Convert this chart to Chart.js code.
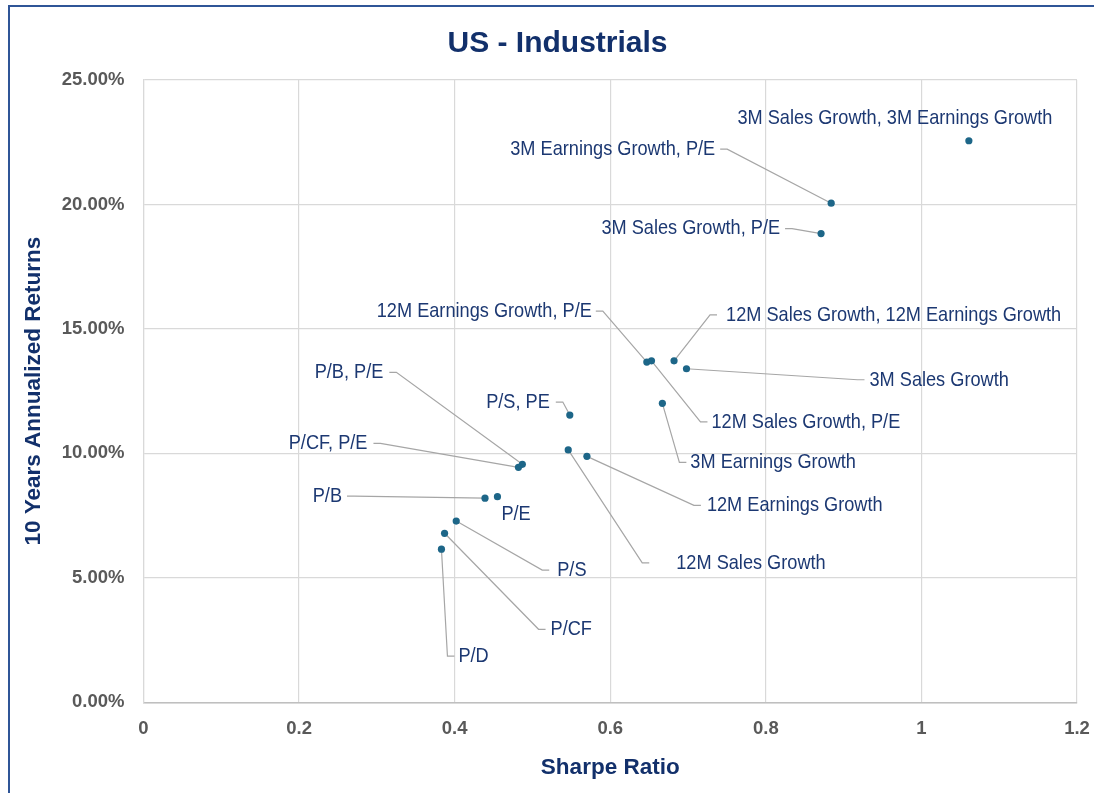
<!DOCTYPE html>
<html>
<head>
<meta charset="utf-8">
<script src="https://cdn.jsdelivr.net/npm/chart.js@4.4.1/dist/chart.umd.min.js"></script>
<style>
  html, body { margin: 0; padding: 0; background: #fff; }
  #wrap { width: 1094px; height: 793px; }
</style>
</head>
<body>
<div id="wrap"><canvas id="chart" width="1094" height="793"></canvas></div>
<script>
// factor combinations, Sharpe ratio and 10y annualized return (%)
const factorNames = [
    'P/D', 'P/CF', 'P/S', 'P/B', 'P/E',
    'P/CF, P/E', 'P/B, P/E', '12M Sales Growth', '12M Earnings Growth', 'P/S, PE',
    '3M Earnings Growth', '12M Earnings Growth, P/E', '12M Sales Growth, P/E',
    '12M Sales Growth, 12M Earnings Growth', '3M Sales Growth',
    '3M Sales Growth, P/E', '3M Earnings Growth, P/E', '3M Sales Growth, 3M Earnings Growth'
];
const sharpeRatios = [
    0.383, 0.387, 0.402, 0.439, 0.455,
    0.482, 0.487, 0.546, 0.570, 0.548,
    0.667, 0.647, 0.653,
    0.682, 0.698,
    0.871, 0.884, 1.061
];
const annualReturns = [
    6.15, 6.79, 7.28, 8.20, 8.26,
    9.44, 9.56, 10.14, 9.88, 11.54,
    12.01, 13.67, 13.72,
    13.72, 13.40,
    18.83, 20.05, 22.56
];
const xTicks = [0, 0.2, 0.4, 0.6, 0.8, 1, 1.2];
const yTicks = [0, 5, 10, 15, 20, 25];

// where each data label sits relative to its point (px), and the leader gap
const labelPlacement = [
    { dx: 17, dy: 107, align: 'left', gap: 4 },
    { dx: 106, dy: 96, align: 'left', gap: 5 },
    { dx: 101, dy: 49, align: 'left', gap: 8 },
    { dx: -143, dy: -2, align: 'right', gap: 5 },
    { dx: 4, dy: 18, align: 'left', gap: null },
    { dx: -151, dy: -24, align: 'right', gap: 6 },
    { dx: -139, dy: -92, align: 'right', gap: 6 },
    { dx: 108, dy: 113, align: 'left', gap: 27 },
    { dx: 120, dy: 49, align: 'left', gap: 6 },
    { dx: -20, dy: -13, align: 'right', gap: 6 },
    { dx: 28, dy: 59, align: 'left', gap: 4 },
    { dx: -55, dy: -51, align: 'right', gap: 4 },
    { dx: 60, dy: 61, align: 'left', gap: 4 },
    { dx: 52, dy: -46, align: 'left', gap: 9 },
    { dx: 183, dy: 11, align: 'left', gap: 5 },
    { dx: -41, dy: -5, align: 'right', gap: 5 },
    { dx: -116, dy: -54, align: 'right', gap: 5 },
    { dx: -74, dy: -23, align: 'center', gap: null }
];

const navy = '#12306b';
const labelNavy = '#1c3872';
const labelFont = "21px 'Liberation Sans', sans-serif";
const labelSqueeze = 0.865; // no narrow face installed, so squeeze horizontally

const points = sharpeRatios.map((x, i) => ({ x: x, y: annualReturns[i] }));

const dataLabels = {
    id: 'dataLabels',
    beforeDatasetsDraw(chart) {
        const ctx = chart.ctx;
        const meta = chart.getDatasetMeta(0);
        ctx.save();
        ctx.strokeStyle = '#a6a6a6';
        ctx.lineWidth = 1.2;
        meta.data.forEach((el, i) => {
            const p = labelPlacement[i];
            if (p.gap === null) return;
            const tx = el.x + p.dx, ty = el.y + p.dy;
            const dir = p.align === 'right' ? 1 : -1;
            const x1 = tx + dir * p.gap;
            const x2 = x1 + dir * 7;
            ctx.beginPath();
            ctx.moveTo(x1, ty);
            ctx.lineTo(x2, ty);
            ctx.lineTo(el.x, el.y);
            ctx.stroke();
        });
        ctx.restore();
    },
    afterDatasetsDraw(chart) {
        const ctx = chart.ctx;
        const meta = chart.getDatasetMeta(0);
        ctx.save();
        ctx.font = labelFont;
        ctx.fillStyle = labelNavy;
        ctx.textBaseline = 'middle';
        meta.data.forEach((el, i) => {
            const p = labelPlacement[i];
            ctx.save();
            ctx.translate(el.x + p.dx, el.y + p.dy);
            ctx.scale(labelSqueeze, 1);
            ctx.textAlign = p.align;
            ctx.fillText(factorNames[i], 0, 0);
            ctx.restore();
        });
        ctx.restore();
    }
};

const frame = {
    id: 'frame',
    afterDraw(chart) {
        const ctx = chart.ctx;
        ctx.save();
        ctx.strokeStyle = '#2f5597';
        ctx.lineWidth = 2;
        ctx.beginPath();
        ctx.moveTo(9, 793);
        ctx.lineTo(9, 6);
        ctx.lineTo(1094, 6);
        ctx.stroke();
        ctx.restore();
    }
};

// left padding 38 centres the title where Excel put it; y axis box shrinks to match
new Chart(document.getElementById('chart'), {
    type: 'scatter',
    data: {
        datasets: [{
            data: points,
            backgroundColor: '#1d6688',
            borderColor: '#1d6688',
            borderWidth: 0,
            pointRadius: 3.6,
            pointHoverRadius: 3.6
        }]
    },
    options: {
        responsive: false,
        animation: false,
        devicePixelRatio: 1,
        layout: { padding: { left: 38, right: 17, top: 0, bottom: 0 } },
        plugins: {
            legend: { display: false },
            tooltip: { enabled: false },
            title: {
                display: true,
                text: 'US - Industrials',
                color: navy,
                font: { family: 'Liberation Sans', size: 30, weight: 'bold', lineHeight: 1.2 },
                padding: { top: 26, bottom: 18 }
            }
        },
        scales: {
            x: {
                type: 'linear',
                min: xTicks[0],
                max: xTicks[xTicks.length - 1],
                afterBuildTicks: s => { s.ticks = xTicks.map(v => ({ value: v })); },
                afterFit: s => { s.height = 90.7; s.paddingLeft = 0; s.paddingRight = 0; },
                ticks: {
                    color: '#595959',
                    font: { family: 'Liberation Sans', size: 18.5, weight: 'bold' },
                    padding: 16,
                    callback: v => String(Number(v.toFixed(1)))
                },
                grid: { color: '#d9d9d9', lineWidth: 1.2, drawTicks: false },
                border: { color: '#bfbfbf', width: 1.5 },
                title: {
                    display: true,
                    text: 'Sharpe Ratio',
                    color: navy,
                    font: { family: 'Liberation Sans', size: 22.5, weight: 'bold', lineHeight: 1.2 },
                    padding: { top: 4, bottom: 11.5 }
                }
            },
            y: {
                type: 'linear',
                min: yTicks[0],
                max: yTicks[yTicks.length - 1],
                afterBuildTicks: s => { s.ticks = yTicks.map(v => ({ value: v })); },
                afterFit: s => { s.width = 105.5; s.paddingTop = 0; s.paddingBottom = 0; },
                ticks: {
                    color: '#595959',
                    font: { family: 'Liberation Sans', size: 18.5, weight: 'bold' },
                    padding: 19,
                    callback: v => v.toFixed(2) + '%'
                },
                grid: { color: '#d9d9d9', lineWidth: 1.2, drawTicks: false },
                border: { color: '#d9d9d9', width: 1.2 },
                title: {
                    display: true,
                    text: '10 Years Annualized Returns',
                    color: navy,
                    font: { family: 'Liberation Sans', size: 22.5, weight: 'bold', lineHeight: 1.2 },
                    padding: { top: -17.5, bottom: 4 }
                }
            }
        }
    },
    plugins: [dataLabels, frame]
});
</script>
</body>
</html>
